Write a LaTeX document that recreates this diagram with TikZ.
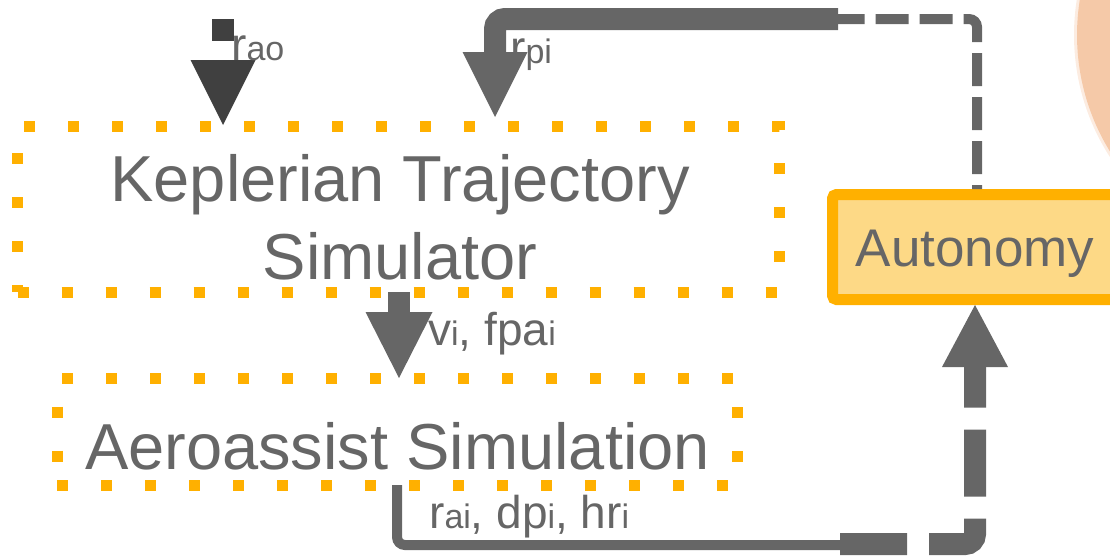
\documentclass[tikz,border=0pt]{standalone}
\usepackage{fontspec}
\setmainfont{Liberation Sans}
\usetikzlibrary{arrows.meta}
\definecolor{dotorange}{RGB}{255,176,0}
\definecolor{autofill}{RGB}{253,217,134}
\definecolor{txtgray}{RGB}{102,102,102}
\definecolor{arrgray}{RGB}{102,102,102}
\definecolor{arrdark}{RGB}{64,64,64}
\definecolor{peach}{RGB}{245,201,168}
\newcommand{\subtxt}[1]{{\fontsize{34}{34}\selectfont #1}}
\tikzset{
  dotbox/.style={draw=dotorange, line width=11pt, dash pattern=on 11pt off 33pt, inner sep=0pt},
  autobox/.style={draw=dotorange, fill=autofill, line width=11pt, rounded corners=4pt, inner sep=0pt,
    text=txtgray, font=\fontsize{53}{60}\selectfont, text height=38pt, text depth=0pt},
  bigtext/.style={text=txtgray, font=\fontsize{65}{78}\selectfont, align=center, inner sep=0pt},
  lbl/.style={text=txtgray, font=\fontsize{46}{50}\selectfont, inner sep=0pt, anchor=base west},
  bigarrow/.style={line width=22pt, -{Triangle[width=65pt,length=65pt,line width=0pt]}},
  thinline/.style={color=arrgray, line width=10pt},
}
\begin{document}
\begin{tikzpicture}[x=1pt,y=-1pt]
\useasboundingbox (0,0) rectangle (1110,555);
\clip (0,0) rectangle (1110,555);
% background disc
\fill[peach, opacity=0.35] (1299,35) circle (225pt);
\fill[peach] (1299,35) circle (222pt);
% boxes
\node[dotbox, minimum width=762pt, minimum height=165.5pt] (kts) at (398.5,209.25) {};
\node[bigtext] (ktstxt) at (400,217) {Keplerian Trajectory\\Simulator};
\node[dotbox, minimum width=680.5pt, minimum height=107pt] (aas) at (397.25,432) {};
\node[bigtext, anchor=base] (aastxt) at (397.5,469) {Aeroassist Simulation};
\node[autobox, minimum width=285pt, minimum height=105pt] (auto) at (975,247) {Autonomy};
% coordinates
\coordinate (raoStart) at (223,19);
\coordinate (raoTip) at (223,125);
\coordinate (fbTop) at (977,19);
\coordinate (fbJoin) at (838,19);
\coordinate (fbCorner) at (495,19);
\coordinate (rpiTip) at (495,117);
\coordinate (viStart) at (399,292);
\coordinate (viTip) at (399,378);
\coordinate (outStart) at (397,485);
\coordinate (outCorner) at (397,545);
\coordinate (outJoin) at (848,545);
\coordinate (upStart) at (840,544);
\coordinate (upCorner) at (975,544);
% connectors
\draw[bigarrow, color=arrdark, dash pattern=on 22pt off 100pt] (raoStart) -- (raoTip);
\draw[thinline, rounded corners=8pt, dash pattern=on 33pt off 11pt, dash phase=29pt]
  ([xshift=2pt]auto.north) -- (fbTop) -- (fbJoin);
\draw[bigarrow, color=arrgray, rounded corners=10pt] (fbJoin) -- (fbCorner) -- (rpiTip);
\draw[line width=22pt, color=arrgray, -{Triangle[width=67pt,length=66pt,line width=0pt]}] (viStart) -- (viTip);
\draw[thinline, rounded corners=8pt] (outStart) -- (outCorner) -- (outJoin);
\draw[line width=22pt, color=arrgray, dash pattern=on 67pt off 22pt, rounded corners=10pt,
  -{Triangle[width=66pt,length=62pt,line width=0pt]}] (upStart) -- (upCorner) -- (auto.south);
% labels
\node[lbl] (lrao) at (231,60) {r\subtxt{ao}};
\node[lbl] (lrpi) at (510,63) {r\subtxt{pi}};
\node[lbl] (lvi) at (428,345) {v\subtxt{i}, fpa\subtxt{i}};
\node[lbl] (lrai) at (429,528) {r\subtxt{ai}, dp\subtxt{i}, hr\subtxt{i}};
\end{tikzpicture}
\end{document}
